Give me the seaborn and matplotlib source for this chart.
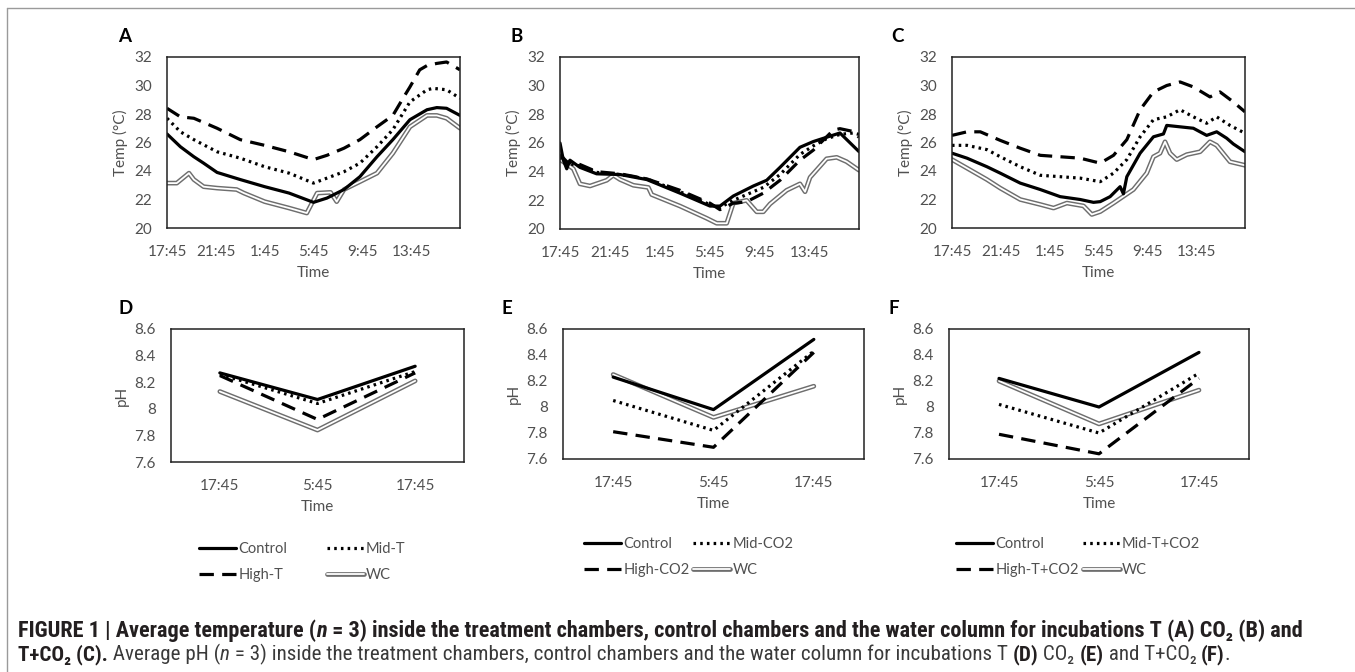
import matplotlib
matplotlib.use("Agg")
import matplotlib.pyplot as plt
from matplotlib import font_manager as fm
import seaborn as sns
import numpy as np
import pandas as pd
from matplotlib.lines import Line2D
from matplotlib.legend_handler import HandlerTuple

# ---------------- DATA ----------------
time_ticks = [0, 4, 8, 12, 16, 20]
time_labels = ["17:45", "21:45", "1:45", "5:45", "9:45", "13:45"]

# Panel A (T)
a_ctrl_h = [0, 1.1, 2.2, 3.0, 4.1, 6.0, 8.0, 10.0, 12.0, 13.1, 14.5, 15.8, 17.2, 18.5, 19.9, 21.3, 22.1, 22.9, 24]
a_ctrl_t = [26.6, 25.7, 25.0, 24.55, 23.9, 23.4, 22.9, 22.45, 21.8, 22.1, 22.7, 23.6, 25.0, 26.2, 27.6, 28.3, 28.45, 28.4, 27.9]
a_mid_h = [0, 1.1, 2.2, 4.1, 6.0, 8.0, 10.0, 12.0, 13.1, 14.5, 15.8, 17.2, 18.5, 19.9, 21.3, 21.8, 22.9, 24]
a_mid_t = [27.7, 26.75, 26.2, 25.35, 24.9, 24.3, 23.85, 23.15, 23.5, 23.95, 24.55, 25.7, 26.9, 28.85, 29.7, 29.8, 29.7, 29.1]
a_high_h = [0, 1.1, 2.2, 4.1, 6.0, 8.0, 10.0, 12.0, 13.1, 14.5, 15.8, 17.2, 18.5, 19.4, 19.9, 20.7, 21.3, 22.1, 22.9, 24]
a_high_t = [28.4, 27.8, 27.7, 27.0, 26.2, 25.8, 25.35, 24.8, 25.1, 25.6, 26.2, 27.1, 27.9, 29.2, 29.9, 31.1, 31.4, 31.55, 31.65, 31.1]
a_wc_h = [0, 0.8, 1.8, 2.2, 3.0, 4.1, 5.7, 6.3, 8.0, 10.0, 11.45, 12.3, 13.4, 13.9, 14.5, 15.8, 17.2, 18.5, 19.9, 21.3, 22.1, 22.9, 24]
a_wc_t = [23.15, 23.15, 23.85, 23.4, 22.9, 22.8, 22.7, 22.45, 21.85, 21.4, 21.05, 22.45, 22.5, 21.85, 22.7, 23.25, 23.85, 25.25, 27.1, 27.9, 27.9, 27.7, 27.0]

# Panel B (CO2)
b_ctrl_h = [0, 0.27, 0.54, 0.8, 1.6, 2.94, 4.82, 6.96, 9.63, 12.04, 12.84, 13.91, 15.52, 16.59, 17.66, 19.26, 20.33, 21.4, 22.47, 24]
b_ctrl_t = [26.0, 24.8, 24.2, 24.8, 24.3, 23.85, 23.8, 23.45, 22.5, 21.6, 21.6, 22.3, 23.0, 23.4, 24.3, 25.7, 26.1, 26.4, 26.7, 25.4]
b_mid_h = [0, 0.54, 1.6, 2.94, 4.82, 6.96, 9.63, 12.04, 12.84, 13.91, 14.98, 16.32, 17.66, 19.26, 20.33, 21.4, 22.47, 23.55, 24]
b_mid_t = [25.0, 24.6, 24.4, 23.95, 23.8, 23.5, 22.6, 21.7, 21.5, 22.0, 22.4, 22.9, 23.8, 25.2, 25.8, 26.3, 26.6, 26.7, 26.6]
b_high_h = [0, 0.54, 1.6, 2.94, 4.82, 6.96, 9.63, 12.04, 12.84, 13.91, 14.98, 16.32, 17.66, 19.26, 20.33, 21.94, 22.47, 23.55, 24]
b_high_t = [25.2, 24.7, 24.5, 24.0, 23.85, 23.5, 22.7, 21.8, 21.35, 21.8, 21.9, 22.5, 23.4, 24.8, 25.5, 26.9, 27.0, 26.8, 26.4]
b_wc_h = [0, 1.07, 1.6, 2.41, 3.75, 4.28, 4.82, 5.89, 7.09, 7.36, 9.63, 11.77, 12.58, 13.38, 13.91, 14.98, 15.79, 16.32, 16.86, 18.19, 19.26, 19.67, 20.07, 21.4, 22.21, 23.0, 24]
b_wc_t = [24.85, 24.2, 23.15, 23.0, 23.4, 23.75, 23.45, 23.05, 22.9, 22.4, 21.6, 20.75, 20.4, 20.4, 21.8, 22.0, 21.2, 21.2, 21.75, 22.7, 23.15, 22.6, 23.6, 24.9, 25.0, 24.7, 24.1]

# Panel C (T+CO2)
c_ctrl_h = [0, 1.23, 2.86, 3.95, 5.59, 7.23, 8.86, 10.5, 11.59, 12.14, 12.95, 13.77, 14.04, 14.32, 15.41, 16.5, 17.32, 17.59, 18.68, 19.77, 20.86, 21.68, 22.5, 23.04, 24]
c_ctrl_t = [25.25, 24.9, 24.3, 23.85, 23.15, 22.7, 22.2, 22.0, 21.8, 21.85, 22.2, 22.9, 22.4, 23.6, 25.25, 26.4, 26.6, 27.2, 27.1, 27.0, 26.5, 26.75, 26.3, 25.9, 25.35]
c_mid_h = [0, 1.23, 2.86, 3.95, 5.59, 7.23, 8.86, 10.5, 12.14, 13.23, 14.32, 15.41, 16.5, 17.59, 18.68, 19.77, 20.86, 21.68, 22.77, 24]
c_mid_t = [25.8, 25.8, 25.5, 25.0, 24.3, 23.7, 23.6, 23.5, 23.25, 23.85, 24.8, 26.4, 27.6, 27.8, 28.3, 27.8, 27.35, 27.8, 27.2, 26.65]
c_high_h = [0, 1.23, 2.32, 3.95, 5.59, 7.23, 8.86, 10.5, 12.14, 13.23, 14.32, 15.41, 16.5, 17.59, 18.68, 19.77, 21.13, 21.95, 23.04, 24]
c_high_t = [26.5, 26.75, 26.75, 26.15, 25.6, 25.1, 25.0, 24.9, 24.55, 25.1, 26.2, 28.3, 29.55, 30.0, 30.25, 29.9, 29.2, 29.55, 28.85, 28.15]
c_wc_h = [0, 1.23, 2.86, 3.95, 5.59, 7.23, 8.32, 9.41, 10.77, 11.45, 12.14, 13.23, 14.86, 15.95, 16.5, 17.04, 17.45, 17.86, 18.41, 19.23, 20.32, 21.13, 21.68, 22.77, 24]
c_wc_t = [24.8, 24.2, 23.4, 22.8, 22.0, 21.65, 21.4, 21.75, 21.55, 20.95, 21.15, 21.75, 22.7, 23.85, 25.0, 25.25, 26.05, 25.25, 24.8, 25.15, 25.35, 26.05, 25.8, 24.65, 24.4]

# pH panels
ph_pos = [0, 1, 2]
ph_labels = ["17:45", "5:45", "17:45"]
d_ctrl = [8.27, 8.07, 8.32]
d_mid = [8.26, 8.04, 8.28]
d_high = [8.25, 7.92, 8.27]
d_wc = [8.13, 7.84, 8.21]
e_ctrl = [8.23, 7.98, 8.52]
e_mid = [8.05, 7.82, 8.43]
e_high = [7.81, 7.69, 8.42]
e_wc = [8.25, 7.92, 8.16]
f_ctrl = [8.22, 8.00, 8.42]
f_mid = [8.02, 7.80, 8.26]
f_high = [7.79, 7.64, 8.22]
f_wc = [8.20, 7.87, 8.13]

legend_names_d = ["Control", "Mid-T", "High-T", "WC"]
legend_names_e = ["Control", "Mid-CO2", "High-CO2", "WC"]
legend_names_f = ["Control", "Mid-T+CO2", "High-T+CO2", "WC"]

# ---------------- STYLE ----------------
sns.set_theme(style="white")
plt.rcParams['font.family'] = ['Lato', 'DejaVu Sans']
W, H = 1355, 672
fig = plt.figure(figsize=(W / 100, H / 100), dpi=100)
fig.patch.set_facecolor("white")

GRAY_TXT = "#505050"
TICK_FS = 11
LEG_FS = 10.5

STY = {
    "ctrl": dict(color="black", lw=2.3, linestyle="-"),
    "mid": dict(color="black", lw=2.3, linestyle=(0, (0.8, 1.3))),
    "high": dict(color="black", lw=2.3, linestyle=(0, (4.5, 2.6))),
}


def px_axes(l, t, r, b):
    return fig.add_axes([l / W, 1 - b / H, (r - l) / W, (b - t) / H])


def style_axes(ax):
    for s in ax.spines.values():
        s.set_visible(True)
        s.set_color("#222222")
        s.set_linewidth(1.1)
    ax.tick_params(axis="both", length=0, labelsize=TICK_FS, colors=GRAY_TXT)
    ax.set_facecolor("white")


def draw_series(ax, x, y, kind):
    if kind == "wc":
        sns.lineplot(x=x, y=y, ax=ax, color="#6e6e6e", lw=3.4, estimator=None, sort=False)
        sns.lineplot(x=x, y=y, ax=ax, color="white", lw=1.3, estimator=None, sort=False)
    else:
        s = STY[kind]
        sns.lineplot(x=x, y=y, ax=ax, color=s["color"], lw=s["lw"], linestyle=s["linestyle"],
                     estimator=None, sort=False)


def temp_panel(box, label, lpos, series):
    ax = px_axes(*box)
    for x, y, kind in series:
        draw_series(ax, x, y, kind)
    ax.set_xlim(0, 24)
    ax.set_ylim(20, 32)
    ax.set_yticks([20, 22, 24, 26, 28, 30, 32])
    ax.set_xticks(time_ticks)
    ax.set_xticklabels(time_labels)
    ax.set_xlabel("Time", fontsize=TICK_FS, color=GRAY_TXT, labelpad=5)
    ax.set_ylabel("Temp (°C)", fontsize=TICK_FS, color=GRAY_TXT, labelpad=4)
    ax.tick_params(axis="x", pad=12)
    ax.tick_params(axis="y", pad=11)
    style_axes(ax)
    fig.text(lpos[0] / W, 1 - lpos[1] / H, label, fontsize=13.5, fontweight="bold",
             ha="left", va="center", color="black")
    return ax


def ph_panel(box, label, lpos, series, names, leg_pos, colsp):
    ax = px_axes(*box)
    for y, kind in series:
        draw_series(ax, ph_pos, y, kind)
    ax.set_xlim(-0.5, 2.5)
    ax.set_ylim(7.6, 8.6)
    ax.set_yticks([7.6, 7.8, 8.0, 8.2, 8.4, 8.6])
    ax.set_yticklabels(["7.6", "7.8", "8", "8.2", "8.4", "8.6"])
    ax.set_xticks(ph_pos)
    ax.set_xticklabels(ph_labels)
    ax.set_xlabel("Time", fontsize=TICK_FS, color=GRAY_TXT, labelpad=5)
    ax.set_ylabel("pH", fontsize=TICK_FS, color=GRAY_TXT, labelpad=4)
    ax.tick_params(axis="x", pad=12)
    ax.tick_params(axis="y", pad=11)
    style_axes(ax)
    fig.text(lpos[0] / W, 1 - lpos[1] / H, label, fontsize=13.5, fontweight="bold",
             ha="left", va="center", color="black")
    h_ctrl = Line2D([], [], **STY["ctrl"])
    h_mid = Line2D([], [], **STY["mid"])
    h_high = Line2D([], [], **STY["high"])
    h_wc = (Line2D([], [], color="#6e6e6e", lw=3.4), Line2D([], [], color="white", lw=1.3))
    handles = [h_ctrl, h_high, h_mid, h_wc]
    labels = [names[0], names[2], names[1], names[3]]
    leg = fig.legend(handles, labels, loc="upper left",
                     bbox_to_anchor=(leg_pos[0] / W, 1 - leg_pos[1] / H),
                     ncol=2, frameon=False, fontsize=LEG_FS, handlelength=2.55,
                     handletextpad=0.15, columnspacing=colsp, borderpad=0, borderaxespad=0,
                     labelspacing=0.8, handler_map={tuple: HandlerTuple(ndivide=1, pad=0)})
    for t in leg.get_texts():
        t.set_color(GRAY_TXT)
    return ax


temp_panel((167, 57, 460, 228), "A", (118, 37),
           [(a_wc_h, a_wc_t, "wc"), (a_ctrl_h, a_ctrl_t, "ctrl"),
            (a_mid_h, a_mid_t, "mid"), (a_high_h, a_high_t, "high")])
temp_panel((560, 57, 859, 229), "B", (511, 37),
           [(b_wc_h, b_wc_t, "wc"), (b_ctrl_h, b_ctrl_t, "ctrl"),
            (b_mid_h, b_mid_t, "mid"), (b_high_h, b_high_t, "high")])
temp_panel((952, 57, 1245, 228), "C", (891, 37),
           [(c_wc_h, c_wc_t, "wc"), (c_ctrl_h, c_ctrl_t, "ctrl"),
            (c_mid_h, c_mid_t, "mid"), (c_high_h, c_high_t, "high")])

ph_panel((171, 329, 464, 462), "D", (118, 309),
         [(d_wc, "wc"), (d_ctrl, "ctrl"), (d_mid, "mid"), (d_high, "high")],
         legend_names_d, (199, 542), 2.7)
ph_panel((563, 329, 864, 459), "E", (502, 309),
         [(e_wc, "wc"), (e_ctrl, "ctrl"), (e_mid, "mid"), (e_high, "high")],
         legend_names_e, (584, 537), 0.25)
ph_panel((949, 329, 1249, 459), "F", (888, 309),
         [(f_wc, "wc"), (f_ctrl, "ctrl"), (f_mid, "mid"), (f_high, "high")],
         legend_names_f, (956, 537), 0.25)

# ---------------- border ----------------
fig.add_artist(Line2D([7 / W, 7 / W], [0, 1 - 8 / H], transform=fig.transFigure,
                      color="#9a9a9a", lw=1.0))
fig.add_artist(Line2D([7 / W, 1], [1 - 8 / H, 1 - 8 / H], transform=fig.transFigure,
                      color="#9a9a9a", lw=1.0))

# ---------------- caption ----------------
def find_condensed():
    names = {f.name for f in fm.fontManager.ttflist}
    for cand in ["Liberation Sans Narrow", "Arial Narrow", "Roboto Condensed",
                 "Open Sans Condensed", "DejaVu Sans Condensed", "Noto Sans Condensed"]:
        if cand in names:
            return cand, "normal"
    for f in fm.fontManager.ttflist:
        if str(f.stretch) in ("condensed", "semi-condensed", "extra-condensed") and "Sans" in f.name:
            return f.name, f.stretch
    return None, "normal"


cond_name, cond_stretch = find_condensed()
if cond_name:
    CAP_FAM = [cond_name, 'DejaVu Sans']
else:
    CAP_FAM = ['Liberation Sans', 'DejaVu Sans']

line1 = [("FIGURE 1 | Average temperature (", "bold", "normal"),
         ("n", "bold", "italic"),
         (" = 3) inside the treatment chambers, control chambers and the water column for incubations T (A) CO₂ (B) and",
          "bold", "normal")]
line2 = [("T+CO₂ (C).", "bold", "normal"),
         (" Average pH (", "normal", "normal"),
         ("n", "normal", "italic"),
         (" = 3) inside the treatment chambers, control chambers and the water column for incubations T ", "normal", "normal"),
         ("(D)", "bold", "normal"),
         (" CO₂ ", "normal", "normal"),
         ("(E)", "bold", "normal"),
         (" and T+CO₂ ", "normal", "normal"),
         ("(F)", "bold", "normal"),
         (".", "normal", "normal")]

renderer = fig.canvas.get_renderer()


def draw_rich(pieces, x0, yc, size):
    x = x0
    arts = []
    for txt, wgt, sty in pieces:
        t = fig.text(x / W, 1 - yc / H, txt, fontsize=size, fontweight=wgt, fontstyle=sty,
                     fontstretch=cond_stretch, family=CAP_FAM, ha="left", va="baseline",
                     color="#231f20" if wgt == "bold" else "#3a3a3a")
        bb = t.get_window_extent(renderer)
        x += bb.width
        arts.append(t)
    return arts, x - x0


def fit_line(pieces, x0, yb, target_w, cap):
    s = 14.0
    arts, wid = draw_rich(pieces, x0, yb, s)
    for a in arts:
        a.remove()
    s = min(s * target_w / wid, cap)
    draw_rich(pieces, x0, yb, s)


fit_line(line1, 18, 637, 1292, 16.5)
fit_line(line2, 18, 660, 1214, 16.5)

fig.savefig("out.png", dpi=100, facecolor="white")
